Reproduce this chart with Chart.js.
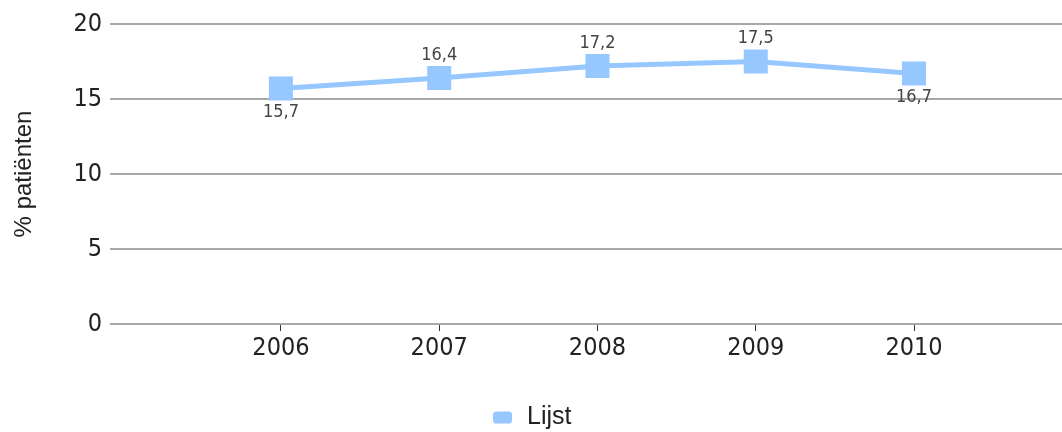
<!DOCTYPE html>
<html>
<head>
<meta charset="utf-8">
<script src="https://cdn.jsdelivr.net/npm/chart.js@4"></script>
<style>
  html, body { margin: 0; padding: 0; background: #fff; }
  #wrap { width: 1062px; height: 432px; }
</style>
</head>
<body>
<div id="wrap"><canvas id="lijstChart"></canvas></div>
<script>
const years = [2006, 2007, 2008, 2009, 2010]
const lijst = [15.7, 16.4, 17.2, 17.5, 16.7]
const yTicks = [0, 5, 10, 15, 20]

// waar het label staat t.o.v. het punt
const labelSide = ['below', 'above', 'above', 'above', 'below']

const narrow = "'DejaVu Sans Condensed', 'Liberation Sans Narrow', sans-serif"
const regular = "'Liberation Sans', Arial, sans-serif"

const valueLabels = {
  id: 'valueLabels',
  afterDatasetsDraw(chart) {
    const ctx = chart.ctx
    const meta = chart.getDatasetMeta(0)
    ctx.save()
    ctx.font = '18px ' + narrow
    ctx.fillStyle = '#444'
    ctx.textAlign = 'center'
    ctx.textBaseline = 'middle'
    meta.data.forEach((pt, i) => {
      const txt = lijst[i].toFixed(1).replace('.', ',')
      const dy = labelSide[i] === 'above' ? -23 : 24
      ctx.fillText(txt, pt.x, pt.y + dy)
    })
    ctx.restore()
  }
}

const ctx = document.getElementById('lijstChart')

new Chart(ctx, {
  type: 'line',
  data: {
    datasets: [{
      label: 'Lijst',
      data: years.map((y, i) => ({ x: y, y: lijst[i] })),
      borderColor: '#96c8ff',
      backgroundColor: '#96c8ff',
      borderWidth: 5,
      pointStyle: 'rect',
      pointRadius: 17,
      pointBorderWidth: 0,
      pointHoverRadius: 17,
      tension: 0
    }]
  },
  options: {
    responsive: true,
    maintainAspectRatio: false,
    animation: false,
    layout: { autoPadding: false, padding: { top: 24, right: 0, left: 0, bottom: -8 } },
    plugins: {
      tooltip: { enabled: false },
      legend: {
        position: 'bottom',
        labels: {
          usePointStyle: true,
          pointStyle: 'rectRounded',
          pointStyleWidth: 24,
          boxHeight: 10,
          padding: 2,
          color: '#222',
          font: { family: regular, size: 25 }
        }
      }
    },
    scales: {
      x: {
        type: 'linear',
        min: 2004.92,
        max: 2010.935,
        afterBuildTicks: (scale) => {
          scale.ticks = years.map(v => ({ value: v }))
        },
        afterFit: (scale) => {
          scale.height = 79
          scale.paddingLeft = 0
          scale.paddingRight = 0
        },
        border: { display: false },
        grid: {
          drawOnChartArea: false,
          drawTicks: true,
          tickLength: 7,
          color: '#333',
          lineWidth: 1
        },
        ticks: {
          padding: 2,
          color: '#222',
          font: { family: narrow, size: 25 },
          callback: (v) => String(v)
        }
      },
      y: {
        min: 0,
        max: 20,
        afterBuildTicks: (scale) => {
          scale.ticks = yTicks.map(v => ({ value: v }))
        },
        afterFit: (scale) => { scale.width = 110 },
        border: { display: false },
        grid: {
          drawTicks: false,
          color: '#a8a8a8',
          lineWidth: 2
        },
        ticks: {
          padding: 8,
          color: '#222',
          font: { family: narrow, size: 25 }
        },
        title: {
          display: true,
          text: '% patiënten',
          color: '#222',
          padding: { top: 10, bottom: 0 },
          font: { family: regular, size: 24 }
        }
      }
    }
  },
  plugins: [valueLabels]
})
</script>
</body>
</html>
